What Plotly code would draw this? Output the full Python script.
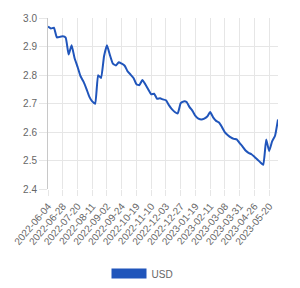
import plotly.graph_objects as go

tick_labels = ["2022-06-04", "2022-06-28", "2022-07-20", "2022-08-11", "2022-09-02",
               "2022-09-24", "2022-10-19", "2022-11-10", "2022-12-03", "2022-12-27",
               "2023-01-19", "2023-02-11", "2023-03-08", "2023-03-31", "2023-04-26",
               "2023-05-20"]
points_per_label = 5
series_name = "USD"
values = [2.970, 2.963, 2.966, 2.932, 2.934, 2.936, 2.931, 2.872, 2.905, 2.860,
          2.830, 2.797, 2.778, 2.753, 2.725, 2.708, 2.700, 2.800, 2.790, 2.866,
          2.905, 2.870, 2.840, 2.834, 2.845, 2.840, 2.833, 2.813, 2.802, 2.790,
          2.768, 2.765, 2.783, 2.768, 2.750, 2.733, 2.735, 2.717, 2.719, 2.715,
          2.712, 2.695, 2.681, 2.671, 2.666, 2.702, 2.708, 2.706, 2.688, 2.675,
          2.657, 2.648, 2.645, 2.648, 2.655, 2.671, 2.652, 2.640, 2.634, 2.618,
          2.600, 2.590, 2.582, 2.577, 2.575, 2.562, 2.550, 2.536, 2.528, 2.523,
          2.514, 2.505, 2.495, 2.486, 2.575, 2.534, 2.568, 2.588, 2.645]

x = list(range(len(values)))
color = "#2055bb"
font = dict(family="Arial, Liberation Sans, sans-serif", size=10, color="#666666")

fig = go.Figure()
fig.add_trace(go.Scatter(x=x, y=values, mode="lines", name=series_name,
                         line=dict(color=color, width=2, shape="spline", smoothing=0.4),
                         showlegend=False))
fig.add_trace(go.Scatter(x=[None], y=[None], mode="lines", name=series_name,
                         line=dict(color=color, width=11), showlegend=True))

fig.update_layout(
    width=300, height=288,
    margin=dict(l=40, r=22, t=15, b=79),
    paper_bgcolor="white", plot_bgcolor="white",
    font=font,
    legend=dict(orientation="h", xref="container", yref="container",
                x=0.475, xanchor="center", y=0.05, yanchor="middle",
                itemwidth=35, font=dict(size=10, color="#666666")),
    xaxis=dict(range=[0, len(values) - 1],
               tickmode="array",
               tickvals=[i * points_per_label for i in range(len(tick_labels))],
               ticktext=tick_labels, tickangle=-50,
               showgrid=True, gridcolor="#e6e6e6", gridwidth=1,
               ticks="outside", ticklen=6, tickcolor="#e6e6e6",
               showline=False, zeroline=False, tickfont=font),
    yaxis=dict(range=[2.4, 3.0], dtick=0.1, tick0=2.4, tickformat=".1f",
               showgrid=True, gridcolor="#e6e6e6", gridwidth=1,
               ticks="outside", ticklen=8, tickcolor="#e6e6e6",
               showline=True, linecolor="#c8c8c8", linewidth=1,
               zeroline=False, tickfont=font),
)

fig.write_html("out.html")
